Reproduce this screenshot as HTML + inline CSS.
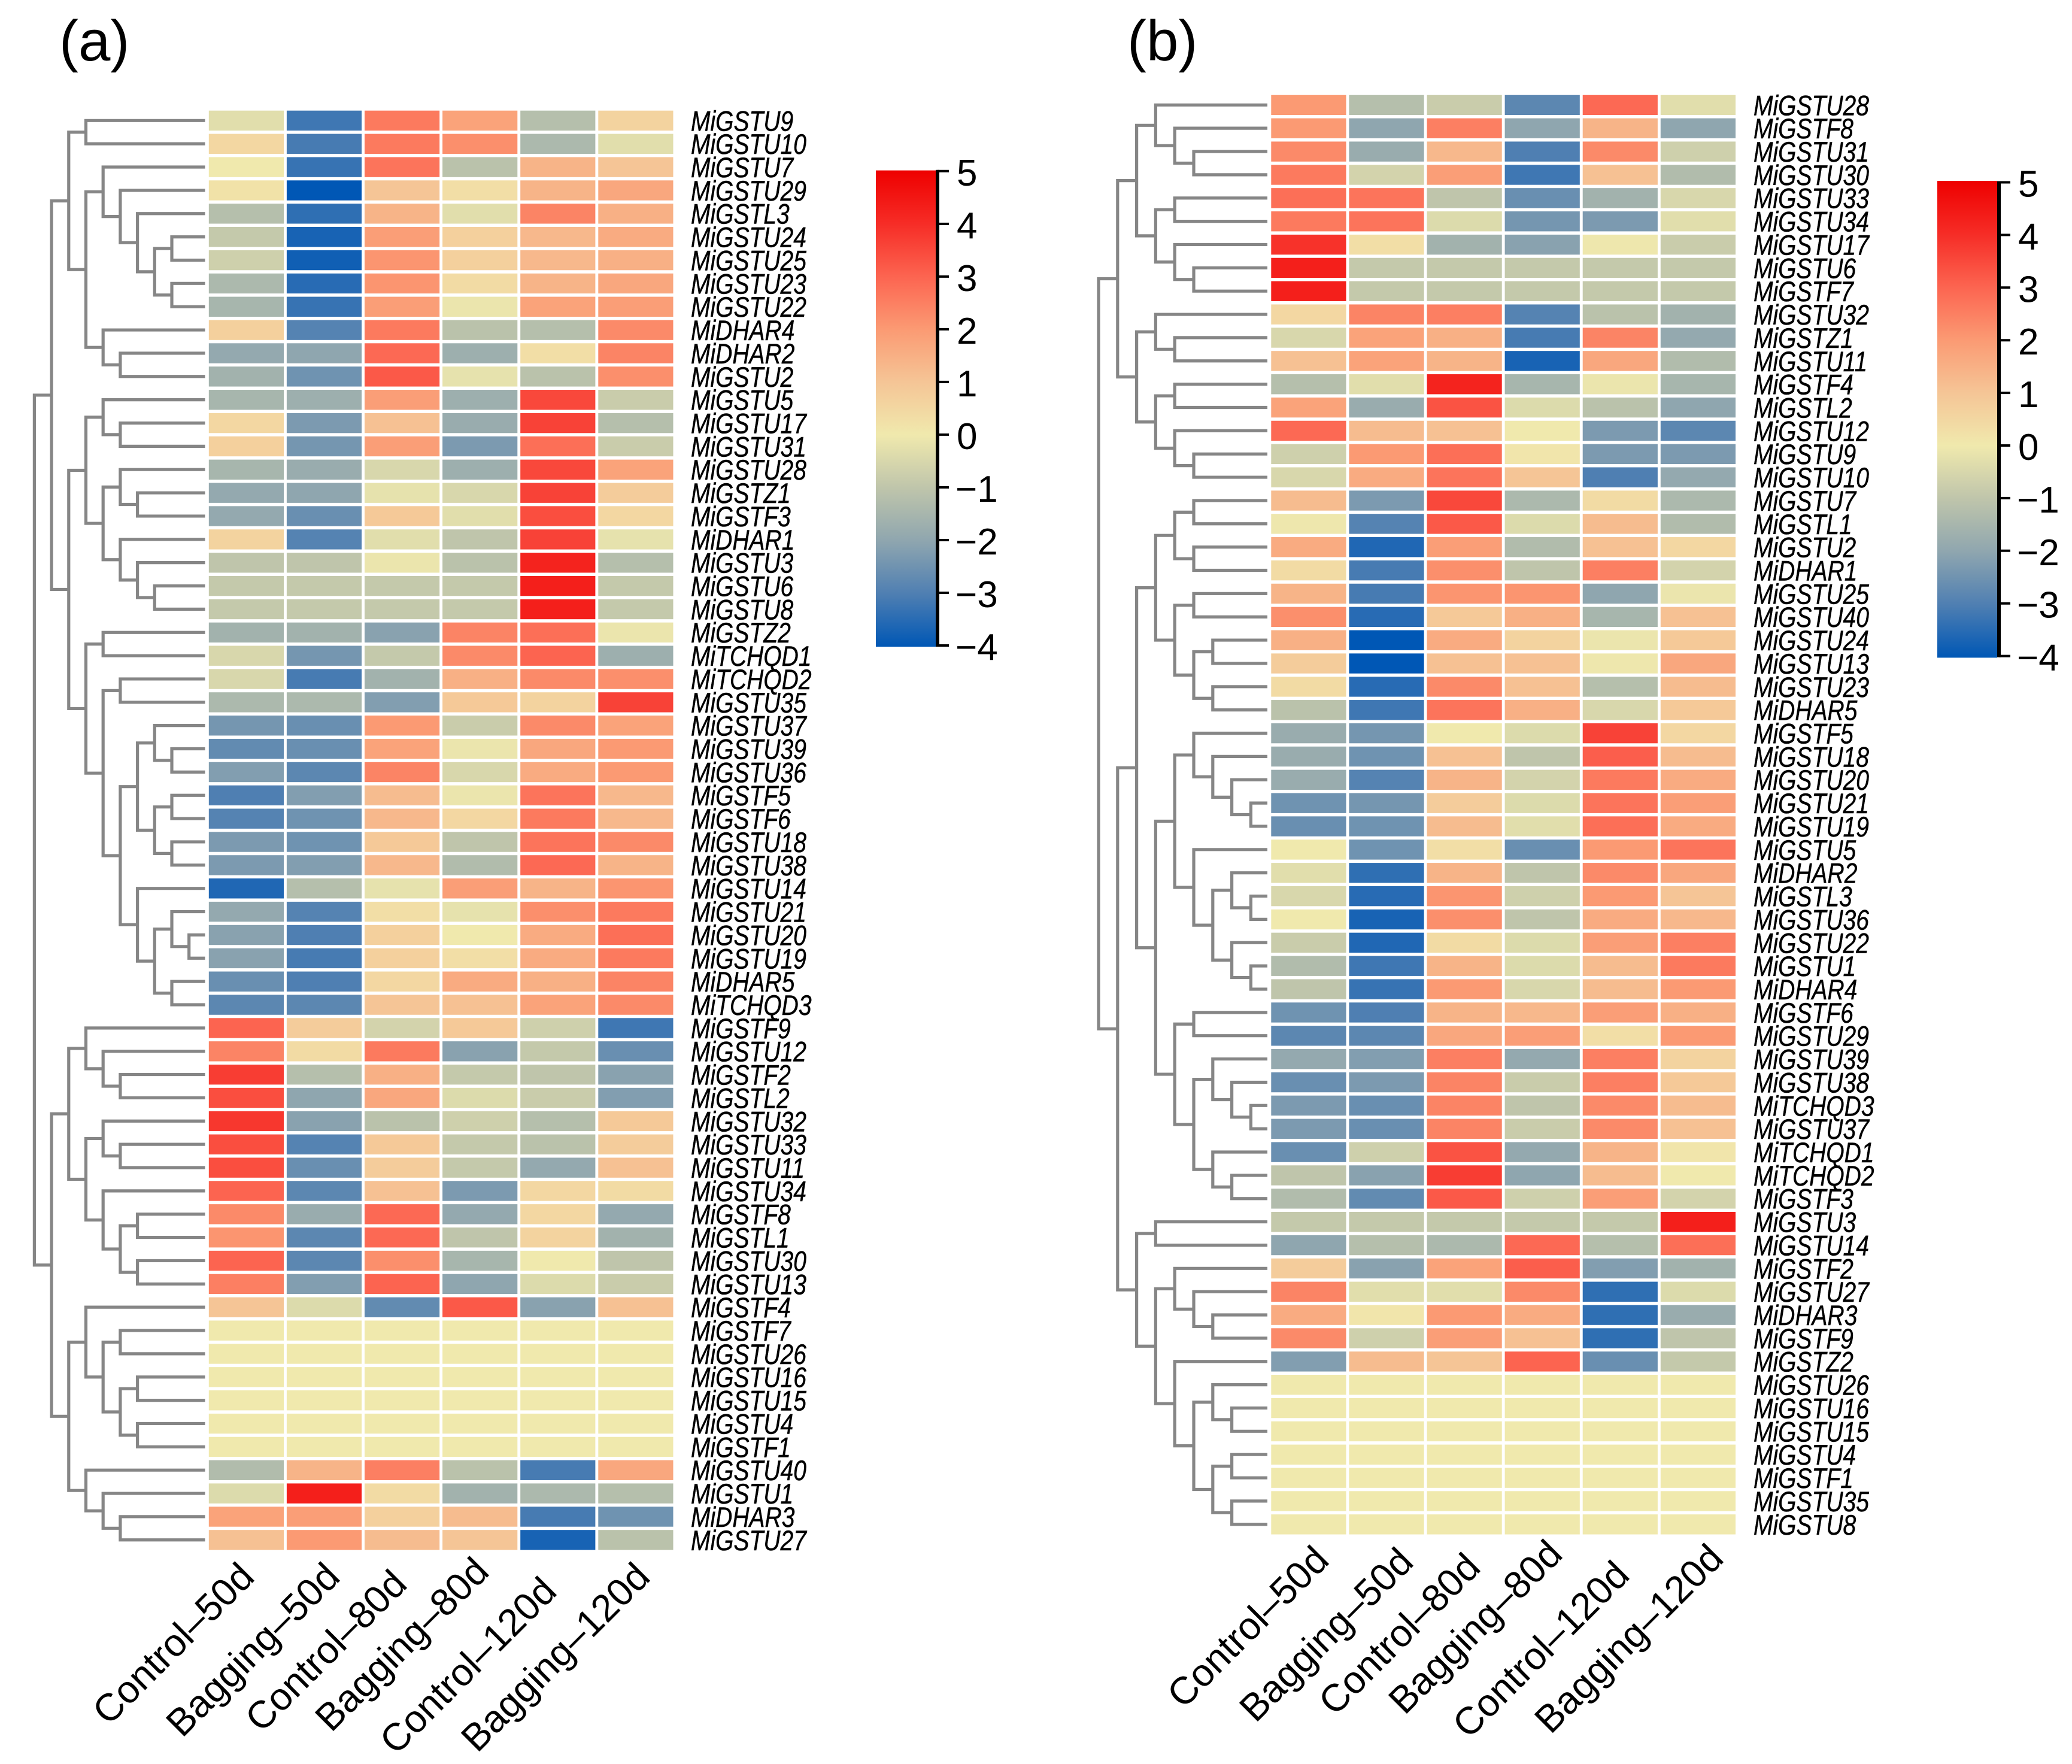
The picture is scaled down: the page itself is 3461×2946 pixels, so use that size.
<!DOCTYPE html>
<html lang="en">
<head>
<meta charset="utf-8">
<title>Clustered heatmaps (a) and (b)</title>
<style>
html,body{margin:0;padding:0;background:#fff;}
svg{display:block;font-family:"Liberation Sans",sans-serif;}
</style>
</head>
<body>
<svg id="chart" xmlns="http://www.w3.org/2000/svg" width="3461" height="2946" viewBox="0 0 3461 2946">
<rect x="0" y="0" width="3461" height="2946" fill="#ffffff"/>
<defs>
<linearGradient id="cbar-gradient" x1="0" y1="0" x2="0" y2="1"></linearGradient>
</defs>
<text x="99" y="101" font-size="96" fill="#000">(a)</text>
<text x="1883" y="101" font-size="96" fill="#000">(b)</text>
<g id="panel-a"></g>
<g id="panel-b"></g>
</svg>
<script>
const columns = ["Control–50d","Bagging–50d","Control–80d","Bagging–80d","Control–120d","Bagging–120d"];
const colorbarTicks = [5,4,3,2,1,0,-1,-2,-3,-4];
const colorValues = [-4,-3,-2,-1,0,1,2,3,4,5];
const colorHexes = ["#0057b5","#4f7fb2","#8fa6af","#bfc5ab","#f0e9ad","#f5c596","#fb9a73","#fc6450","#f62c26","#ee0000"];

const rowsA = ["MiGSTU9","MiGSTU10","MiGSTU7","MiGSTU29","MiGSTL3","MiGSTU24","MiGSTU25","MiGSTU23","MiGSTU22","MiDHAR4","MiDHAR2","MiGSTU2","MiGSTU5","MiGSTU17","MiGSTU31","MiGSTU28","MiGSTZ1","MiGSTF3","MiDHAR1","MiGSTU3","MiGSTU6","MiGSTU8","MiGSTZ2","MiTCHQD1","MiTCHQD2","MiGSTU35","MiGSTU37","MiGSTU39","MiGSTU36","MiGSTF5","MiGSTF6","MiGSTU18","MiGSTU38","MiGSTU14","MiGSTU21","MiGSTU20","MiGSTU19","MiDHAR5","MiTCHQD3","MiGSTF9","MiGSTU12","MiGSTF2","MiGSTL2","MiGSTU32","MiGSTU33","MiGSTU11","MiGSTU34","MiGSTF8","MiGSTL1","MiGSTU30","MiGSTU13","MiGSTF4","MiGSTF7","MiGSTU26","MiGSTU16","MiGSTU15","MiGSTU4","MiGSTF1","MiGSTU40","MiGSTU1","MiDHAR3","MiGSTU27"];
const valuesA = [
[-0.3,-3.2,2.6,1.8,-1.2,0.6],[0.5,-3.1,2.6,2.2,-1.4,-0.3],[0,-3.3,2.7,-1.1,1.4,1.0],[0.2,-4,1.0,0.3,1.4,1.7],
[-1.2,-3.4,1.4,-0.3,2.4,1.5],[-0.9,-3.7,1.9,0.7,1.3,1.6],[-0.7,-3.8,2.1,0.7,1.3,1.5],[-1.4,-3.5,2.1,0.4,1.4,1.7],
[-1.5,-3.3,1.9,-0.1,1.8,1.9],[0.7,-2.9,2.6,-1.1,-1.2,2.3],[-1.9,-2.0,2.9,-1.7,0.3,2.4],[-1.6,-2.5,3.2,-0.2,-1.1,2.2],
[-1.5,-1.7,1.9,-1.7,3.5,-0.8],[0.5,-2.3,1.1,-1.8,3.6,-1.2],[0.7,-2.4,1.9,-2.3,2.8,-0.8],[-1.5,-1.8,-0.5,-1.7,3.5,1.8],
[-1.9,-2.0,-0.2,-0.5,3.6,0.8],[-1.9,-2.6,0.9,-0.3,3.4,0.5],[0.6,-2.9,-0.3,-1.0,3.6,-0.2],[-1,-1,-0.1,-1.1,4.2,-1.2],
[-0.9,-0.9,-0.9,-0.9,4.3,-0.9],[-0.9,-0.9,-0.9,-0.9,4.3,-0.9],[-1.6,-1.6,-2.1,2.4,2.8,-0.1],[-0.5,-2.4,-0.9,2.3,3.0,-1.7],
[-0.5,-3.1,-1.6,1.5,2.3,2.2],[-1.4,-1.4,-2.2,0.9,0.6,3.6],[-2.4,-2.6,2.0,-0.8,2.3,1.8],[-2.7,-2.6,1.8,-0.1,1.7,2.0],
[-2.2,-2.8,2.4,-0.5,1.6,2.0],[-3.0,-2.2,1.2,-0.1,2.7,1.3],[-2.9,-2.5,1.3,0.5,2.6,1.3],[-2.3,-2.5,0.9,-1,2.7,2.3],
[-2.3,-2.2,1.3,-1.3,2.9,1.4],[-3.6,-1.2,-0.2,1.9,1.4,2.1],[-1.9,-2.9,0.3,-0.2,2.2,2.6],[-2.1,-3.0,0.7,0,1.6,2.8],
[-2.1,-3.1,0.7,0.3,1.6,2.6],[-2.6,-3.0,0.5,1.6,1.5,2.4],[-2.8,-2.8,1.0,1.1,1.8,2.3],[3.0,0.8,-0.6,0.9,-0.7,-3.2],
[2.4,0.4,2.6,-2.1,-0.9,-2.6],[3.7,-1.2,1.5,-0.9,-1.0,-2.1],[3.4,-2.0,1.7,-0.4,-0.8,-2.2],[3.8,-2.1,-1.1,-0.7,-1.2,0.9],
[3.4,-2.9,0.9,-0.9,-1.1,0.8],[3.4,-2.6,0.8,-0.9,-1.9,1.1],[3.0,-2.8,1.1,-2.3,0.5,0.4],[2.3,-1.8,2.9,-1.9,0.5,-1.9],
[2.1,-2.8,2.9,-1,0.6,-1.6],[3,-2.8,2.2,-1.5,0,-1],[2.5,-2.2,3,-2.0,-0.4,-0.8],[1,-0.4,-2.7,3.2,-2.1,1.1],
[0,0,0,0,0,0],[0,0,0,0,0,0],[0,0,0,0,0,0],[0,0,0,0,0,0],[0,0,0,0,0,0],[0,0,0,0,0,0],
[-1.3,1.4,2.5,-1.1,-3.1,1.7],[-0.4,4.3,0.4,-1.6,-1.4,-1.2],[1.8,1.9,0.7,1.2,-3.1,-2.5],[1.1,2,1.2,1,-3.7,-1.1]
];
const treeA = [0,
 [1,
  [2,[3,0,1],[3,[4,2,[5,3,[6,4,[7,[8,5,6],[8,7,8]]]]],[4,9,[5,10,11]]]],
  [2,[3,[4,12,[5,13,14]],[4,[5,15,[6,16,17]],[5,18,[6,19,[7,20,21]]]]],
     [3,[4,22,23],[4,[5,24,25],[5,[6,[7,26,[8,27,28]],[7,[8,29,30],[8,31,32]]],[6,33,[7,[8,34,[9,35,36]],[8,37,38]]]]]]]
 ],
 [1,
  [2,[3,39,[4,40,[5,41,42]]],[3,[4,43,[5,44,45]],[4,46,[5,[6,47,48],[6,49,50]]]]],
  [2,[3,51,[4,[5,52,53],[5,[6,54,55],[6,56,57]]]],[3,58,[4,59,[5,60,61]]]]
 ]
];

const rowsB = ["MiGSTU28","MiGSTF8","MiGSTU31","MiGSTU30","MiGSTU33","MiGSTU34","MiGSTU17","MiGSTU6","MiGSTF7","MiGSTU32","MiGSTZ1","MiGSTU11","MiGSTF4","MiGSTL2","MiGSTU12","MiGSTU9","MiGSTU10","MiGSTU7","MiGSTL1","MiGSTU2","MiDHAR1","MiGSTU25","MiGSTU40","MiGSTU24","MiGSTU13","MiGSTU23","MiDHAR5","MiGSTF5","MiGSTU18","MiGSTU20","MiGSTU21","MiGSTU19","MiGSTU5","MiDHAR2","MiGSTL3","MiGSTU36","MiGSTU22","MiGSTU1","MiDHAR4","MiGSTF6","MiGSTU29","MiGSTU39","MiGSTU38","MiTCHQD3","MiGSTU37","MiTCHQD1","MiTCHQD2","MiGSTF3","MiGSTU3","MiGSTU14","MiGSTF2","MiGSTU27","MiDHAR3","MiGSTF9","MiGSTZ2","MiGSTU26","MiGSTU16","MiGSTU15","MiGSTU4","MiGSTF1","MiGSTU35","MiGSTU8"];
const valuesB = [
[2.0,-1.2,-0.8,-2.8,2.9,-0.3],[2.0,-2.0,2.5,-2.0,1.4,-2.0],[2.3,-1.8,1.3,-3.0,2.3,-0.7],[2.6,-0.6,1.9,-3.2,1.1,-1.3],
[2.8,2.7,-1,-2.6,-1.6,-0.5],[2.6,2.7,-0.4,-2.4,-2.3,-0.3],[3.9,0.3,-1.6,-2.1,-0.05,-0.8],[4.3,-0.9,-0.9,-0.9,-0.9,-0.9],
[4.3,-0.9,-0.9,-0.9,-0.9,-0.9],[0.5,2.4,2.5,-2.9,-1.1,-1.6],[-0.5,1.8,1.5,-3.1,2.4,-1.9],[1.1,1.8,1.4,-3.7,1.7,-1.3],
[-1.2,-0.3,4.2,-1.5,-0.1,-1.5],[1.8,-1.8,3.3,-0.4,-1.1,-2.0],[2.9,1.2,1.1,0,-2.3,-2.8],[-0.7,2.0,2.8,0.1,-2.3,-2.3],
[-0.5,1.6,2.7,1,-3,-1.9],[1.2,-2.3,3.5,-1.4,0.4,-1.4],[-0.05,-2.9,3.2,-0.4,1.2,-1.3],[1.6,-3.6,1.9,-1.3,1.1,0.5],
[0.4,-3.1,2.2,-1,2.5,-0.6],[1.4,-3.1,2.1,2.1,-2,-0.1],[2.2,-3.5,0.9,1.5,-1.5,1.1],[1.5,-4,1.6,0.6,-0.1,0.9],
[0.8,-4,1.1,1.1,-0.05,1.7],[0.4,-3.5,2.3,1.1,-1.2,1.2],[-1.1,-3.2,2.7,1.5,-0.5,0.9],[-1.8,-2.4,0,-0.4,3.6,0.5],
[-1.8,-2.5,1.1,-1,3.1,1.2],[-1.8,-2.9,1.4,-0.6,2.6,1.6],[-2.5,-2.4,0.8,-0.4,2.7,1.9],[-2.6,-2.5,1.2,-0.3,2.8,1.6],
[0,-2.5,0.3,-2.6,2,2.7],[-0.3,-3.4,1.4,-1,2.3,1.7],[-0.5,-3.5,2.1,-0.7,2,1.0],[0,-3.7,2.2,-1,1.6,1.3],
[-0.8,-3.6,0.4,-0.4,1.9,2.5],[-1.3,-3.2,1.4,-0.4,1.2,2.6],[-1,-3.3,2,-0.5,1.2,2.0],[-2.5,-3,1.4,1.3,1.9,1.5],
[-2.8,-2.8,1.7,1.9,0.3,2.0],[-1.9,-2.2,2.5,-1.9,2.5,0.6],[-2.6,-2.3,2.4,-0.8,2.5,0.9],[-2.3,-2.6,2.4,-1,2.3,1.2],
[-2.3,-2.6,2.4,-0.8,2.3,1.1],[-2.6,-0.7,3.3,-1.9,1.4,0.1],[-1,-2.1,3.7,-2,1.2,0],[-1.3,-2.7,3.2,-0.7,1.9,-0.6],
[-0.9,-0.9,-0.9,-0.9,-0.9,4.3],[-2,-1.2,-1.4,2.9,-1.2,2.8],[0.8,-2.1,1.8,3.1,-2.2,-1.6],[2.4,-0.3,-0.3,2.3,-3.4,-0.4],
[1.6,0.1,2,1.6,-3.4,-1.8],[2.3,-0.7,1.9,1.1,-3.4,-1.0],[-2.2,1.2,1.0,3.0,-2.6,-0.9],
[0,0,0,0,0,0],[0,0,0,0,0,0],[0,0,0,0,0,0],[0,0,0,0,0,0],[0,0,0,0,0,0],[0,0,0,0,0,0],[0,0,0,0,0,0]
];
const treeB = [0,
 [1,
  [2,[3,0,[4,1,[5,2,3]]],[3,[4,4,5],[4,6,[5,7,8]]]],
  [2,[3,9,[4,10,11]],[3,[4,12,13],[4,14,[5,15,16]]]]
 ],
 [1,
  [2,
   [3,[4,[5,17,18],[5,19,20]],[4,[5,21,22],[5,[6,23,24],[6,25,26]]]],
   [3,[4,[5,27,[6,28,[7,29,[8,30,31]]]],[5,32,[6,[7,33,[8,34,35]],[7,36,[8,37,38]]]]],
      [4,[5,39,40],[5,[6,41,[7,42,[8,43,44]]],[6,45,[7,46,47]]]]]
  ],
  [2,[3,48,49],[3,[4,50,[5,51,[6,52,53]]],[4,54,[5,[6,55,[7,56,57]],[6,[7,58,59],[7,60,61]]]]]]
 ]
];

const NS = "http://www.w3.org/2000/svg";

function hexToRgb(h){
  return [parseInt(h.slice(1,3),16),parseInt(h.slice(3,5),16),parseInt(h.slice(5,7),16)];
}
function colorFor(v){
  const c = Math.max(colorValues[0],Math.min(colorValues[colorValues.length-1],v));
  let i = 0;
  while(i < colorValues.length-2 && c > colorValues[i+1]) i++;
  const t = (c-colorValues[i])/(colorValues[i+1]-colorValues[i]);
  const a = hexToRgb(colorHexes[i]), b = hexToRgb(colorHexes[i+1]);
  return "rgb("+a.map((x,k)=>Math.round(x+(b[k]-x)*t)).join(",")+")";
}

const grad = document.getElementById("cbar-gradient");
colorValues.slice().reverse().forEach(v=>{
  const s = document.createElementNS(NS,"stop");
  s.setAttribute("offset",String((colorValues[colorValues.length-1]-v)/(colorValues[colorValues.length-1]-colorValues[0])));
  s.setAttribute("stop-color",colorFor(v));
  grad.appendChild(s);
});

function drawPanel(cfg){
  const g = document.getElementById(cfg.id);
  const xScale = c => cfg.x0 + c*130.1;
  const yScale = r => cfg.y0 + r*38.86;
  const yCenter = r => yScale(r) + 16.6;
  const levelX = l => cfg.treeX0 + l*cfg.treeStep;

  cfg.values.forEach((row,r)=>{
    row.forEach((v,c)=>{
      const cell = document.createElementNS(NS,"rect");
      
      
      cell.setAttribute("x",xScale(c));
      cell.setAttribute("y",yScale(r));
      cell.setAttribute("width",125.2);
      cell.setAttribute("height",33.4);
      cell.setAttribute("fill",colorFor(v));
      g.appendChild(cell);
    });
  });

  cfg.rows.forEach((name,r)=>{
    const t = document.createElementNS(NS,"text");
    
    
    t.setAttribute("transform","translate("+cfg.labelX+","+(yCenter(r)+17)+") scale(0.83,1)");
    t.setAttribute("font-size",47);
    t.setAttribute("font-style","italic");
    t.setAttribute("fill","#000");
    t.setAttribute("stroke","#000");
    t.setAttribute("stroke-width",0.5);
    t.textContent = name;
    g.appendChild(t);
  });

  function drawNode(node){
    if(typeof node === "number") return {y:yCenter(node),x:cfg.leafX};
    const a = drawNode(node[1]), b = drawNode(node[2]);
    const x = levelX(node[0]);
    const p = document.createElementNS(NS,"path");
    
    
    p.setAttribute("d","M"+a.x+" "+a.y+"H"+x+"V"+b.y+"H"+b.x);
    p.setAttribute("fill","none");
    p.setAttribute("stroke","#868686");
    p.setAttribute("stroke-width",5.2);
    g.appendChild(p);
    return {y:(a.y+b.y)/2,x:x};
  }
  drawNode(cfg.tree);

  columns.forEach((name,c)=>{
    const t = document.createElementNS(NS,"text");
    
    
    t.setAttribute("transform","translate("+cfg.colLabelX[c]+","+cfg.colLabelY[c]+") rotate(-45)");
    t.setAttribute("font-size",64);
    t.setAttribute("text-anchor","end");
    t.setAttribute("fill","#000");
    t.textContent = name;
    g.appendChild(t);
  });

  const cb = document.createElementNS(NS,"rect");
  
  
  cb.setAttribute("x",cfg.cbX);
  cb.setAttribute("y",cfg.cbTop);
  cb.setAttribute("width",cfg.cbW);
  cb.setAttribute("height",cfg.cbH);
  cb.setAttribute("fill","url(#cbar-gradient)");
  g.appendChild(cb);

  const axisX = cfg.cbX + cfg.cbW + 3;
  const tickY = v => cfg.tickTop + (5-v)*(cfg.tickBottom-cfg.tickTop)/9;
  const axis = document.createElementNS(NS,"line");
  
  
  axis.setAttribute("x1",axisX);
  axis.setAttribute("x2",axisX);
  axis.setAttribute("y1",tickY(5)-2);
  axis.setAttribute("y2",tickY(-4)+2);
  axis.setAttribute("stroke","#000");
  axis.setAttribute("stroke-width",6);
  g.appendChild(axis);

  colorbarTicks.forEach(v=>{
    const tk = document.createElementNS(NS,"line");
    
    
    tk.setAttribute("x1",axisX);
    tk.setAttribute("x2",axisX+19);
    tk.setAttribute("y1",tickY(v));
    tk.setAttribute("y2",tickY(v));
    tk.setAttribute("stroke","#000");
    tk.setAttribute("stroke-width",4);
    g.appendChild(tk);
    const lb = document.createElementNS(NS,"text");
    
    
    lb.setAttribute("x",axisX+(v<0?30:32));
    lb.setAttribute("y",tickY(v)+24);
    lb.setAttribute("font-size",62);
    lb.setAttribute("fill","#000");
    lb.textContent = v<0 ? "−"+Math.abs(v) : String(v);
    g.appendChild(lb);
  });
}

drawPanel({
  id:"panel-a",rows:rowsA,values:valuesA,tree:treeA,
  x0:348.8,y0:184.7,treeX0:57.4,treeStep:28.7,leafX:342.5,labelX:1154,
  colLabelX:[428,571,683,820,933,1089],colLabelY:[2637,2637,2649,2628,2661,2637],
  cbX:1463,cbW:100,cbTop:284.6,cbH:795.4,tickTop:285.8,tickBottom:1078
});
drawPanel({
  id:"panel-b",rows:rowsB,values:valuesB,tree:treeB,
  x0:2123.3,y0:158.7,treeX0:1835,treeStep:31.8,leafX:2117,labelX:2929,
  colLabelX:[2223,2364,2476,2613,2725,2882],colLabelY:[2609,2612,2621,2599,2634,2606],
  cbX:3236,cbW:100,cbTop:302,cbH:796.4,tickTop:304.5,tickBottom:1095.6
});
</script>
</body>
</html>
